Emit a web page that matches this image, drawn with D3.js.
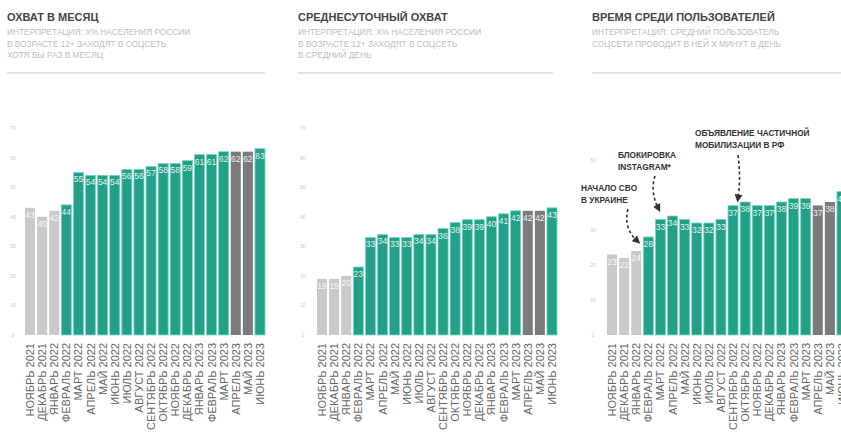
<!DOCTYPE html>
<html>
  <head>
    <meta charset="utf-8">
    <title>Соцсети: охват и время</title>
    <script src="https://d3js.org/d3.v7.min.js"></script>
    <style>
      body { margin: 0; background: #fff; }
      text { font-family: "Liberation Sans", Arial, sans-serif; }
      .title { font-weight: bold; font-size: 11px; fill: #444; }
      .sub { font-size: 8.3px; fill: #bdbdbd; }
      .tick-y { font-size: 5px; fill: #c8c8c8; }
      .cat { font-size: 11px; fill: #666; }
      .val { font-size: 8.5px; fill: #fff; fill-opacity: 0.9; }
      .note { font-size: 8.3px; font-weight: bold; fill: #333; stroke: #fff; stroke-width: 3px; paint-order: stroke; }
    </style>
  </head>
  <body>
    <svg id="chart" width="841" height="432"></svg>
    <script>
// months (shared by all three panels)
var months = ["НОЯБРЬ 2021", "ДЕКАБРЬ 2021", "ЯНВАРЬ 2022", "ФЕВРАЛЬ 2022", "МАРТ 2022",
  "АПРЕЛЬ 2022", "МАЙ 2022", "ИЮНЬ 2022", "ИЮЛЬ 2022", "АВГУСТ 2022", "СЕНТЯБРЬ 2022",
  "ОКТЯБРЬ 2022", "НОЯБРЬ 2022", "ДЕКАБРЬ 2022", "ЯНВАРЬ 2023", "ФЕВРАЛЬ 2023",
  "МАРТ 2023", "АПРЕЛЬ 2023", "МАЙ 2023", "ИЮНЬ 2023"];

// bar type: "pre" = before the war (light grey), "main" = green, "gap" = dark grey
var barType = ["pre", "pre", "pre", "main", "main", "main", "main", "main", "main", "main",
  "main", "main", "main", "main", "main", "main", "main", "gap", "gap", "main"];

var monthlyReach = [43, 40, 42, 44, 55, 54, 54, 54, 56, 56, 57, 58, 58, 59, 61, 61, 62, 62, 62, 63];
var dailyReach = [19, 19, 20, 23, 33, 34, 33, 33, 34, 34, 36, 38, 39, 39, 40, 41, 42, 42, 42, 43];
var minutesPerDay = [23, 22, 24, 28, 33, 34, 33, 32, 32, 33, 37, 38, 37, 37, 38, 39, 39, 37, 38, 41];

var ticksReach = [0, 10, 20, 30, 40, 50, 60, 70];
var ticksMinutes = [0, 10, 20, 30, 40, 50];

var titles = ["ОХВАТ В МЕСЯЦ", "СРЕДНЕСУТОЧНЫЙ ОХВАТ", "ВРЕМЯ СРЕДИ ПОЛЬЗОВАТЕЛЕЙ"];
var subtitles = [
  ["ИНТЕРПРЕТАЦИЯ: X% НАСЕЛЕНИЯ РОССИИ", "В ВОЗРАСТЕ 12+ ЗАХОДЯТ В СОЦСЕТЬ", "ХОТЯ БЫ РАЗ В МЕСЯЦ"],
  ["ИНТЕРПРЕТАЦИЯ: X% НАСЕЛЕНИЯ РОССИИ", "В ВОЗРАСТЕ 12+ ЗАХОДЯТ В СОЦСЕТЬ", "В СРЕДНИЙ ДЕНЬ"],
  ["ИНТЕРПРЕТАЦИЯ: СРЕДНИЙ ПОЛЬЗОВАТЕЛЬ", "СОЦСЕТИ ПРОВОДИТ В НЕЙ X МИНУТ В ДЕНЬ"]
];

// events on the third panel
var notes = [
  { month: "ФЕВРАЛЬ 2022", lines: ["НАЧАЛО СВО", "В УКРАИНЕ"] },
  { month: "МАРТ 2022", lines: ["БЛОКИРОВКА", "INSTAGRAM*"] },
  { month: "СЕНТЯБРЬ 2022", lines: ["ОБЪЯВЛЕНИЕ ЧАСТИЧНОЙ", "МОБИЛИЗАЦИИ В РФ"] }
];

var colors = { pre: "#c9c9cb", main: "#22a088", gap: "#7b7b7d" };

var svg = d3.select("#chart");

svg.append("defs").append("marker")
  .attr("id", "arrow")
  .attr("viewBox", "0 0 10 10")
  .attr("refX", 5).attr("refY", 5)
  .attr("markerWidth", 5).attr("markerHeight", 5)
  .attr("orient", "auto-start-reverse")
  .append("path")
  .attr("d", "M0,0 L10,5 L0,10 z")
  .attr("fill", "#333");

var panels = [
  { head: 7, lineEnd: 265, barX: 25, axisX: 13, data: monthlyReach, max: 70, top: 128, ticks: ticksReach },
  { head: 298, lineEnd: 553, barX: 317, axisX: 303, data: dailyReach, max: 70, top: 128, ticks: ticksReach },
  { head: 592, lineEnd: 845, barX: 607, axisX: 593, data: minutesPerDay, max: 50, top: 160, ticks: ticksMinutes }
];

var baseY = 335;

panels.forEach(function(p, i) {
  var g = svg.append("g");

  // header
  g.append("text").attr("class", "title").attr("x", p.head).attr("y", 21).text(titles[i]);
  g.selectAll(".sub").data(subtitles[i]).enter().append("text")
    .attr("class", "sub")
    .attr("x", p.head)
    .attr("y", function(d, j) { return 35 + j * 11.5; })
    .text(function(d) { return d; });
  g.append("line")
    .attr("x1", p.head).attr("x2", p.lineEnd)
    .attr("y1", 73).attr("y2", 73)
    .attr("stroke", "#d9d9d9").attr("stroke-width", 1.5);

  var x = d3.scaleBand()
    .domain(months)
    .range([p.barX, p.barX + 240])
    .paddingInner(0.17)
    .paddingOuter(0);

  var y = d3.scaleLinear()
    .domain([0, p.max])
    .range([baseY, p.top]);

  p.x = x; p.y = y;

  // y ticks (tiny grey numbers)
  g.selectAll(".tick-y").data(p.ticks).enter().append("text")
    .attr("class", "tick-y")
    .attr("x", p.axisX)
    .attr("y", function(d) { return y(d) + 2; })
    .attr("text-anchor", "middle")
    .text(function(d) { return d; });

  // bars
  g.selectAll("rect").data(p.data).enter().append("rect")
    .attr("x", function(d, j) { return x(months[j]); })
    .attr("y", function(d) { return y(d); })
    .attr("width", x.bandwidth())
    .attr("height", function(d) { return baseY - y(d); })
    .attr("fill", function(d, j) { return colors[barType[j]]; })
    .attr("stroke", function(d, j) { return barType[j] == "main" ? "#7fd6c4" : "none"; })
    .attr("stroke-width", 0.8);

  // value labels inside bars
  g.selectAll(".val").data(p.data).enter().append("text")
    .attr("class", "val")
    .attr("x", function(d, j) { return x(months[j]) + x.bandwidth() / 2; })
    .attr("y", function(d) { return y(d) + 10; })
    .attr("text-anchor", "middle")
    .text(function(d) { return d; });

  // month labels, rotated
  g.selectAll(".cat").data(months).enter().append("text")
    .attr("class", "cat")
    .attr("text-anchor", "end")
    .attr("transform", function(d) {
      return "translate(" + (x(d) + x.bandwidth() / 2 + 4) + ",343) rotate(-90)";
    })
    .text(function(d) { return d; });
});

// annotations on the minutes panel
var p3 = panels[2];
var noteGeom = [
  { tx: 581, ty: 191, dx: -6, dy: 4, from: [628, 209], bend: [623, 228] },
  { tx: 618, ty: 158, dx: -2, dy: -11, from: [655, 176], bend: [650, 192] },
  { tx: 695, ty: 136, dx: 5, dy: -7, from: [738, 155], bend: [741, 178] }
];

notes.forEach(function(n, k) {
  var geo = noteGeom[k];
  var j = months.indexOf(n.month);
  var val = minutesPerDay[j];
  var endX = k == 0 ? p3.x(n.month) + geo.dx : p3.x(n.month) + p3.x.bandwidth() / 2 + geo.dx;
  var endY = p3.y(val) + geo.dy;

  svg.selectAll(".note" + k).data(n.lines).enter().append("text")
    .attr("class", "note")
    .attr("x", geo.tx)
    .attr("y", function(d, i) { return geo.ty + i * 12; })
    .text(function(d) { return d; });

  svg.append("path")
    .attr("d", "M" + geo.from[0] + "," + geo.from[1] +
      " Q" + geo.bend[0] + "," + geo.bend[1] + " " + endX + "," + endY)
    .attr("fill", "none")
    .attr("stroke", "#333")
    .attr("stroke-width", 1.6)
    .attr("stroke-dasharray", "3,2.5")
    .attr("marker-end", "url(#arrow)");
});
    </script>
  </body>
</html>
